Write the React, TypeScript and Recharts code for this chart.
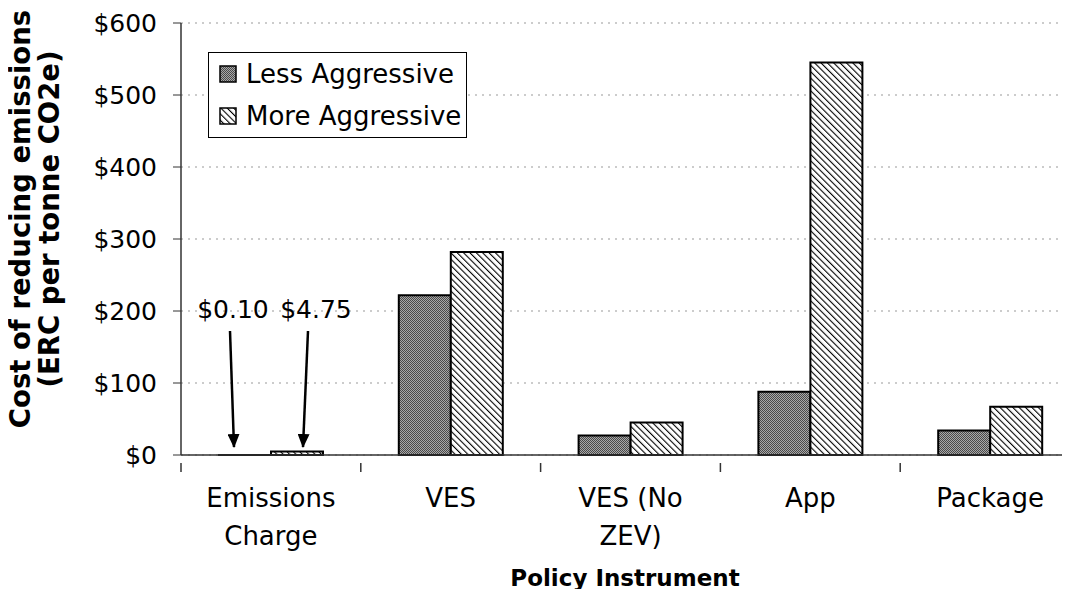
import { Bar, BarChart, CartesianGrid, LabelList, XAxis, YAxis } from "recharts";

const categories = ["Emissions\nCharge", "VES", "VES (No\nZEV)", "App", "Package"];
const lessAggressive = [0.1, 222, 27, 88, 34];
const moreAggressive = [4.75, 282, 45, 545, 67];
const yTicks = [0, 100, 200, 300, 400, 500, 600];
const seriesNames = ["Less Aggressive", "More Aggressive"];
const callouts = ["$0.10", "$4.75"];

const data = categories.map((name, i) => ({ name, less: lessAggressive[i], more: moreAggressive[i] }));

const font = "'DejaVu Sans', sans-serif";

function Patterns({ suffix = "" }: { suffix?: string }) {
  return (
    <defs>
      <pattern id={`dots${suffix}`} width="2" height="2" patternUnits="userSpaceOnUse">
        <rect width="2" height="2" fill="#a8a8a8" />
        <rect width="1" height="1" fill="#4a4a4a" />
        <rect x="1" y="1" width="1" height="1" fill="#4a4a4a" />
      </pattern>
      <pattern id={`hatch${suffix}`} width="4.5" height="4.5" patternUnits="userSpaceOnUse" patternTransform="rotate(-45)">
        <rect width="4.5" height="4.5" fill="#fff" />
        <line x1="0" y1="0" x2="0" y2="4.5" stroke="#000" strokeWidth="2.2" />
      </pattern>
      <marker id={`arrow${suffix}`} markerWidth="14" markerHeight="12" refX="13" refY="6" orient="auto" markerUnits="userSpaceOnUse">
        <path d="M0,0 L14,6 L0,12 z" fill="#000" />
      </marker>
    </defs>
  );
}

function CategoryTick(props: any) {
  const { x, y, payload } = props;
  const lines = String(payload.value).split("\n");
  const half = payload.offset ?? 90;
  const last = payload.index === categories.length - 1;
  return (
    <g>
      <line x1={x - half} y1={y} x2={x - half} y2={y + 9} stroke="#333" strokeWidth={1.5} />
      {last && <line x1={x + half} y1={y} x2={x + half} y2={y + 9} stroke="#333" strokeWidth={1.5} />}
      <text x={x} y={y + 44} textAnchor="middle" fontFamily={font} fontSize={26} fill="#000">
        {lines.map((l, i) => (
          <tspan key={i} x={x} dy={i === 0 ? 0 : 38}>
            {l}
          </tspan>
        ))}
      </text>
    </g>
  );
}

function makeCallout(which: number) {
  return (props: any) => {
    const { x, y, width, height, index } = props;
    if (index !== 0) return null;
    const cx = x + width / 2;
    const base = y + height;
    const textDx = which === 0 ? -12 : 19;
    const topDx = which === 0 ? -15 : 11;
    const tipDx = which === 0 ? -11 : 6;
    return (
      <g>
        <text x={cx + textDx} y={base - 137} textAnchor="middle" fontFamily={font} fontSize={25} fill="#000">
          {callouts[which]}
        </text>
        <line x1={cx + topDx} y1={base - 124} x2={cx + tipDx} y2={base - 8} stroke="#000" strokeWidth={2.5} markerEnd="url(#arrow)" />
      </g>
    );
  };
}

function LegendBox() {
  const row = (i: number) => (
    <div key={i} style={{ display: "flex", alignItems: "center", height: 42 }}>
      <svg width={18} height={18} style={{ marginRight: 9 }}>
        <Patterns suffix="lg" />
        <rect x={1} y={1} width={16} height={16} fill={i === 0 ? "url(#dotslg)" : "url(#hatchlg)"} stroke="#000" strokeWidth={1.5} />
      </svg>
      <span style={{ fontFamily: font, fontSize: 26, color: "#000", lineHeight: 1 }}>{seriesNames[i]}</span>
    </div>
  );
  return (
    <div
      style={{
        position: "absolute",
        top: 52,
        left: 208,
        border: "1.5px solid #000",
        width: 247,
        height: 84,
        paddingLeft: 10,
        background: "#fff",
      }}
    >
      {row(0)}
      {row(1)}
    </div>
  );
}

export default function App() {
  return (
    <div style={{ margin: -8, width: 1070, height: 597, overflow: "hidden", background: "#fff", position: "relative" }}>
      <BarChart width={1090} height={597} data={data} margin={{ top: 23, right: 10, bottom: 0, left: 0 }} barCategoryGap={38} barGap={0}>
        <Patterns />
        <CartesianGrid vertical={false} stroke="#999" strokeDasharray="2 5" />
        <XAxis
          dataKey="name"
          height={142}
          tickLine={false}
          axisLine={{ stroke: "#333", strokeWidth: 1.5 }}
          tick={CategoryTick}
          interval={0}
          label={{
            content: () => (
              <text x={625} y={586} textAnchor="middle" fontFamily={font} fontWeight="bold" fontSize={23} fill="#000">
                Policy Instrument
              </text>
            ),
          }}
        />
        <YAxis
          width={181}
          domain={[0, 600]}
          ticks={yTicks}
          interval={0}
          tickFormatter={(v) => `$${v}`}
          tickSize={8}
          tickMargin={16}
          tickLine={{ stroke: "#333" }}
          axisLine={{ stroke: "#333", strokeWidth: 1.5 }}
          tick={{ fontFamily: font, fontSize: 25, fill: "#000" }}
          label={{
            content: () => (
              <g transform="translate(0,219) rotate(-90)" fontFamily={font} fontWeight="bold" fontSize={27.5} fill="#000">
                <text x={0} y={30} textAnchor="middle">Cost of reducing emissions</text>
                <text x={0} y={59} textAnchor="middle">(ERC per tonne CO2e)</text>
              </g>
            ),
          }}
        />
        <Bar dataKey="less" name={seriesNames[0]} fill="url(#dots)" stroke="#000" strokeWidth={2} isAnimationActive={false}>
          <LabelList dataKey="less" content={makeCallout(0)} />
        </Bar>
        <Bar dataKey="more" name={seriesNames[1]} fill="url(#hatch)" stroke="#000" strokeWidth={2} isAnimationActive={false}>
          <LabelList dataKey="more" content={makeCallout(1)} />
        </Bar>
      </BarChart>
      <LegendBox />
    </div>
  );
}
